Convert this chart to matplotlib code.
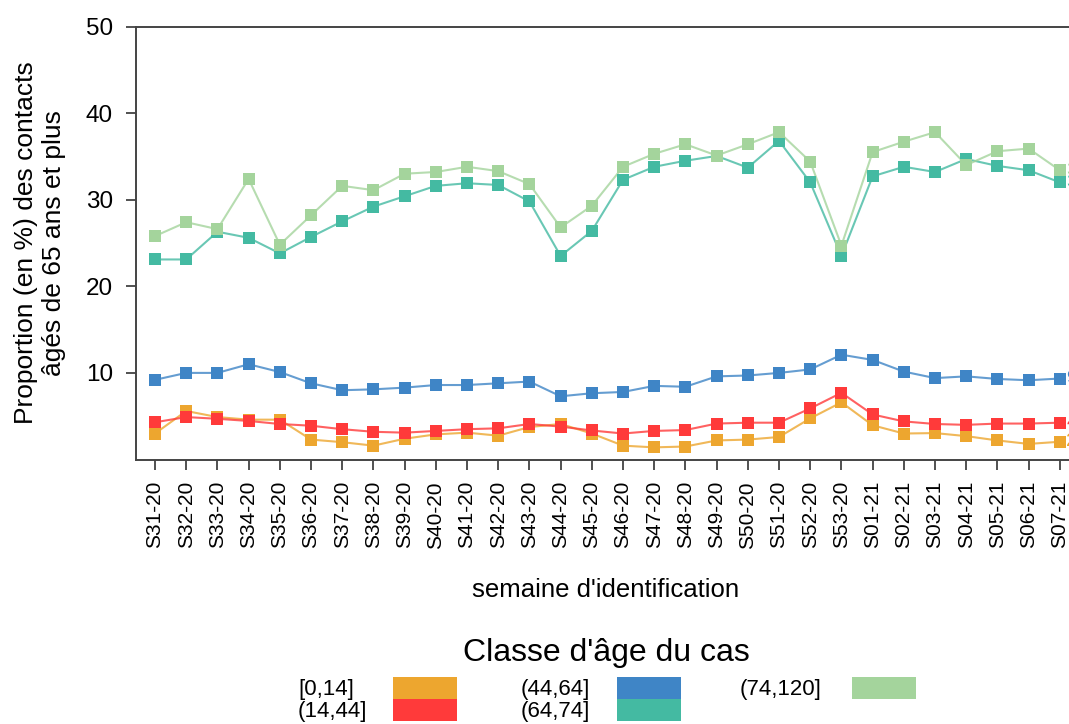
import matplotlib
matplotlib.use("Agg")
import matplotlib.pyplot as plt
from matplotlib.patches import Rectangle

plt.rcParams['font.family'] = ['Liberation Sans', 'DejaVu Sans']

###########
# DATA
###########
weeks = ["S31-20", "S32-20", "S33-20", "S34-20", "S35-20", "S36-20", "S37-20", "S38-20",
         "S39-20", "S40-20", "S41-20", "S42-20", "S43-20", "S44-20", "S45-20", "S46-20",
         "S47-20", "S48-20", "S49-20", "S50-20", "S51-20", "S52-20", "S53-20", "S01-21",
         "S02-21", "S03-21", "S04-21", "S05-21", "S06-21", "S07-21"]

age_0_14 = [3.0, 5.6, 4.9, 4.6, 4.6, 2.3, 2.0, 1.6, 2.4, 2.9, 3.1, 2.75, 3.75, 4.1, 3.0,
            1.6, 1.4, 1.5, 2.2, 2.3, 2.6, 4.75, 6.6, 3.95, 3.0, 3.05, 2.7, 2.2, 1.8, 2.05]
age_14_44 = [4.3, 4.9, 4.7, 4.45, 4.1, 3.9, 3.5, 3.2, 3.1, 3.3, 3.5, 3.6, 4.1, 3.8, 3.35,
             3.0, 3.3, 3.4, 4.15, 4.25, 4.25, 5.9, 7.7, 5.2, 4.4, 4.1, 4.0, 4.15, 4.15, 4.25]
age_44_64 = [9.2, 10.0, 10.0, 11.0, 10.1, 8.8, 8.0, 8.1, 8.3, 8.6, 8.6, 8.8, 9.0, 7.3, 7.65,
             7.8, 8.5, 8.4, 9.6, 9.7, 10.0, 10.4, 12.1, 11.5, 10.15, 9.4, 9.6, 9.3, 9.15, 9.35]
age_64_74 = [23.1, 23.1, 26.3, 25.6, 23.8, 25.7, 27.5, 29.2, 30.4, 31.6, 31.9, 31.7, 29.8, 23.5, 26.4,
             32.3, 33.8, 34.5, 35.05, 33.7, 36.8, 32.0, 23.5, 32.7, 33.8, 33.2, 34.7, 33.9, 33.4, 32.0]
age_74_120 = [25.8, 27.4, 26.6, 32.4, 24.8, 28.2, 31.6, 31.1, 33.0, 33.2, 33.8, 33.3, 31.8, 26.8, 29.3,
              33.8, 35.3, 36.4, 35.1, 36.4, 37.8, 34.4, 24.7, 35.5, 36.7, 37.8, 34.0, 35.6, 35.9, 33.4]

series_labels = ["[0,14]", "(14,44]", "(44,64]", "(64,74]", "(74,120]"]
series_values = [age_0_14, age_14_44, age_44_64, age_64_74, age_74_120]
colours = ["#EDA62F", "#FF3A3A", "#3F85C6", "#44BAA2", "#A4D49C"]

###########
# CREATING THE GRAPH
###########
W, H = 1069, 724
fig = plt.figure(figsize=(W / 100, H / 100), dpi=100)

# axes box in pixels, right edge runs past the figure like the original
left_px, bottom_px, top_px = 136, 459.5, 26.5
step_px = 31.2
x_min, x_max = -0.61, 31.0
width_px = (x_max - x_min) * step_px
height_px = bottom_px - top_px
ax = fig.add_axes([left_px / W, (H - bottom_px) / H, width_px / W, height_px / H])

x = list(range(len(weeks)))
for vals, col in zip(series_values, colours):
    ax.plot(x, vals, color=col, linewidth=1.5, alpha=0.8, zorder=2)
    ax.plot(x, vals, linestyle='none', marker='s', markersize=8,
            markerfacecolor=col, markeredgewidth=0, zorder=3)
    # last value label at the right (clipped by figure edge)
    ax.text(x[-1] + 0.2, vals[-1], f"{round(vals[-1])}", color=col,
            fontsize=14, ha='left', va='center', clip_on=False)

ax.set_xlim(x_min, x_max)
ax.set_ylim(0, 50)
ax.set_yticks([10, 20, 30, 40, 50])
ax.set_xticks(x)
ax.set_xticklabels(weeks, rotation=90)
ax.tick_params(axis='y', length=7, width=1.2, pad=9.5, color='#333333')
ax.tick_params(axis='x', length=7.5, width=1.2, pad=8, color='#333333')
plt.setp(ax.get_yticklabels(), fontsize=17.5, color='black')
plt.setp(ax.get_xticklabels(), fontsize=15, color='black')

for side in ['left', 'bottom', 'top']:
    ax.spines[side].set_color('#444444')
    ax.spines[side].set_linewidth(1.4)
ax.spines['right'].set_visible(False)

ax.set_ylabel("Proportion (en %) des contacts\nâgés de 65 ans et plus", fontsize=19)
ax.set_xlabel("semaine d'identification", fontsize=18.5)
ax.xaxis.set_label_coords((606 - left_px) / width_px, -(578 - bottom_px) / height_px)
ax.yaxis.set_label_coords(-(left_px - 66) / width_px, 0.5)

# Legend drawn by hand, three columns, labels left of the colour blocks
fig.text(606 / W, 1 - 653 / H, "Classe d'âge du cas", fontsize=23, ha='center', va='center')
label_x = [298, 298, 521, 521, 740]
patch_x = [393, 393, 617, 617, 852]
row_y = [677, 699, 677, 699, 677]
for lab, col, lx, px, ry in zip(series_labels, colours, label_x, patch_x, row_y):
    fig.text(lx / W, 1 - (ry + 12) / H, lab, fontsize=16, ha='left', va='center')
    fig.patches.append(Rectangle((px / W, 1 - (ry + 22) / H), 64 / W, 22 / H,
                                 transform=fig.transFigure, facecolor=col, edgecolor='none'))

plt.savefig("out.png", dpi=100)
plt.close(fig)
